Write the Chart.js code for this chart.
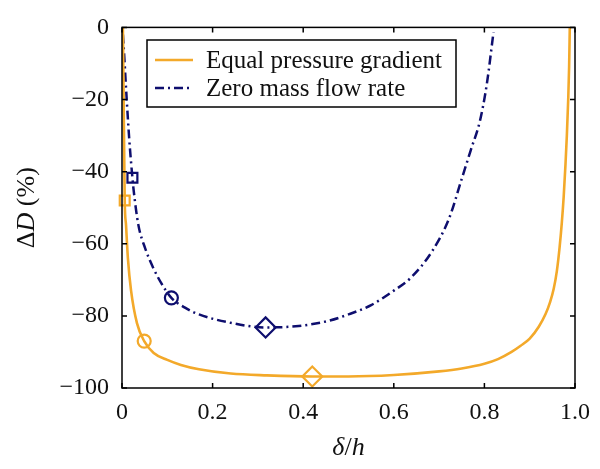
<!DOCTYPE html>
<html>
<head>
<meta charset="utf-8">
<script src="https://cdn.jsdelivr.net/npm/chart.js@4/dist/chart.umd.min.js"></script>
<style>
html,body{margin:0;padding:0;background:#fff;}
#wrap{width:600px;height:469px;position:relative;}
</style>
</head>
<body>
<div id="wrap"><canvas id="c" width="600" height="469"></canvas></div>
<script>
// ---- data ----
const seriesLabels = ['Equal pressure gradient', 'Zero mass flow rate'];
const xTicks = [0, 0.2, 0.4, 0.6, 0.8, 1.0];
const yTicks = [0, -20, -40, -60, -80, -100];

const equalX = [0.002,0.003,0.004,0.005,0.006,0.009,0.013,0.02,0.033,0.049,0.07,0.1,0.13,0.17,0.24,0.32,0.42,0.5,0.6,0.7,0.75,0.8,0.83,0.86,0.88,0.9,0.92,0.935,0.945,0.953,0.96,0.966,0.971,0.975,0.979,0.982,0.985,0.987,0.9885];
const equalY = [0,-12,-25,-37,-48,-55,-64,-73,-82,-87,-90.3,-92.2,-93.6,-94.8,-96,-96.5,-96.8,-96.8,-96.4,-95.4,-94.6,-93.3,-92,-90,-88.3,-86.3,-83,-79.5,-76.2,-72.5,-67.5,-61,-54,-47,-38,-30,-20,-11,0];

const zeroX = [0.002,0.005,0.009,0.016,0.023,0.026,0.036,0.051,0.069,0.088,0.109,0.14,0.17,0.243,0.317,0.39,0.455,0.5,0.55,0.6,0.637,0.685,0.722,0.75,0.77,0.79,0.805,0.82];
const zeroY = [-2,-8,-17,-31,-41.7,-45.5,-54.7,-61.2,-66.7,-71.2,-75,-77.8,-79.6,-82,-83.2,-82.8,-81.4,-79.6,-77,-73,-69.5,-62,-53,-42,-34,-26,-16,-1.4];

const equalMarkX = [0.006, 0.049, 0.42];
const equalMarkY = [-48, -87, -96.8];
const zeroMarkX = [0.023, 0.109, 0.317];
const zeroMarkY = [-41.7, -75, -83.2];
const markStyles = ['rect', 'circle', 'rectRot'];

// ---- styles ----
const ORANGE = '#F3A92A';
const NAVY = '#0E0E6E';
const SERIF = '"Liberation Serif", "DejaVu Serif", serif';
const DASH = [9, 4, 2, 4];

const pts = (xs, ys) => xs.map((x, i) => ({x: x, y: ys[i]}));

function markerSet(xs, ys, color) {
  return {
    label: '_m',
    data: pts(xs, ys),
    showLine: false,
    clip: false,
    borderColor: color,
    backgroundColor: 'rgba(0,0,0,0)',
    borderWidth: 2,
    pointStyle: markStyles,
    pointRadius: [7, 6.5, 10],
    pointHoverRadius: [7, 6.5, 10],
    pointBorderWidth: 2.2
  };
}

const framePlugin = {
  id: 'frame',
  afterDraw(chart) {
    const ctx = chart.ctx;
    const a = chart.chartArea;
    const xs = chart.scales.x, ys = chart.scales.y;
    ctx.save();
    ctx.strokeStyle = '#000';
    ctx.lineWidth = 1.5;
    ctx.strokeRect(a.left, a.top, a.right - a.left, a.bottom - a.top);
    const tl = 5;
    ctx.beginPath();
    xTicks.forEach(v => {
      const px = xs.getPixelForValue(v);
      ctx.moveTo(px, a.bottom); ctx.lineTo(px, a.bottom - tl);
      ctx.moveTo(px, a.top); ctx.lineTo(px, a.top + tl);
    });
    yTicks.forEach(v => {
      const py = ys.getPixelForValue(v);
      ctx.moveTo(a.left, py); ctx.lineTo(a.left + tl, py);
      ctx.moveTo(a.right, py); ctx.lineTo(a.right - tl, py);
    });
    ctx.stroke();

    // legend box
    const lx = 147, ly = 40, lw = 309, lh = 67;
    ctx.fillStyle = '#fff';
    ctx.fillRect(lx, ly, lw, lh);
    ctx.lineWidth = 1.5;
    ctx.strokeRect(lx, ly, lw, lh);
    const rows = [{y: 60, c: ORANGE, d: []}, {y: 88, c: NAVY, d: DASH}];
    rows.forEach((r, i) => {
      ctx.beginPath();
      ctx.strokeStyle = r.c;
      ctx.lineWidth = 2.5;
      ctx.setLineDash(r.d);
      ctx.moveTo(155, r.y); ctx.lineTo(193, r.y);
      ctx.stroke();
      ctx.setLineDash([]);
      ctx.fillStyle = '#111';
      ctx.font = '25px ' + SERIF;
      ctx.textAlign = 'left';
      ctx.textBaseline = 'middle';
      ctx.fillText(chart.data.datasets[i].label, 206, r.y + 1);
    });

    // axis titles with mixed italic
    function drawParts(parts, cx, cy, rot) {
      ctx.save();
      ctx.translate(cx, cy);
      if (rot) ctx.rotate(-Math.PI / 2);
      ctx.fillStyle = '#111';
      ctx.textBaseline = 'middle';
      ctx.textAlign = 'left';
      let total = 0;
      parts.forEach(p => { ctx.font = p.f; total += ctx.measureText(p.t).width; });
      let x = -total / 2;
      parts.forEach(p => { ctx.font = p.f; ctx.fillText(p.t, x, 0); x += ctx.measureText(p.t).width; });
      ctx.restore();
    }
    drawParts([
      {t: 'Δ', f: '26px ' + SERIF},
      {t: 'D', f: 'italic 26px ' + SERIF},
      {t: ' (%)', f: '26px ' + SERIF}
    ], 27, (a.top + a.bottom) / 2, true);
    drawParts([
      {t: 'δ', f: 'italic 26px ' + SERIF},
      {t: '/', f: '26px ' + SERIF},
      {t: 'h', f: 'italic 26px ' + SERIF}
    ], (a.left + a.right) / 2, 448, false);
    ctx.restore();
  }
};

new Chart(document.getElementById('c'), {
  type: 'scatter',
  data: {
    datasets: [
      {
        label: seriesLabels[0],
        data: pts(equalX, equalY),
        showLine: true,
        borderColor: ORANGE,
        borderWidth: 2.6,
        pointRadius: 0,
        cubicInterpolationMode: 'monotone'
      },
      {
        label: seriesLabels[1],
        data: pts(zeroX, zeroY),
        showLine: true,
        borderColor: NAVY,
        borderWidth: 2.5,
        borderDash: DASH,
        pointRadius: 0,
        cubicInterpolationMode: 'monotone'
      },
      markerSet(equalMarkX, equalMarkY, ORANGE),
      markerSet(zeroMarkX, zeroMarkY, NAVY)
    ]
  },
  options: {
    responsive: false,
    animation: false,
    events: [],
    layout: {padding: {top: 25, right: 21, bottom: 0, left: 0}},
    plugins: {legend: {display: false}, tooltip: {enabled: false}},
    scales: {
      x: {
        type: 'linear', min: 0, max: 1,
        afterFit: s => { s.height = 81; },
        afterBuildTicks: s => { s.ticks = xTicks.map(v => ({value: v})); },
        grid: {display: false, drawTicks: false},
        border: {display: false},
        ticks: {
          padding: 10,
          color: '#111',
          font: {family: SERIF, size: 24},
          callback: v => (v === 0 ? '0' : v.toFixed(1))
        }
      },
      y: {
        type: 'linear', min: -100, max: 0,
        afterFit: s => { s.width = 122; },
        afterBuildTicks: s => { s.ticks = yTicks.map(v => ({value: v})); },
        grid: {display: false, drawTicks: false},
        border: {display: false},
        ticks: {
          padding: 13,
          color: '#111',
          font: {family: SERIF, size: 24},
          callback: v => String(v).replace('-', '\u2212')
        }
      }
    }
  },
  plugins: [framePlugin]
});
</script>
</body>
</html>
